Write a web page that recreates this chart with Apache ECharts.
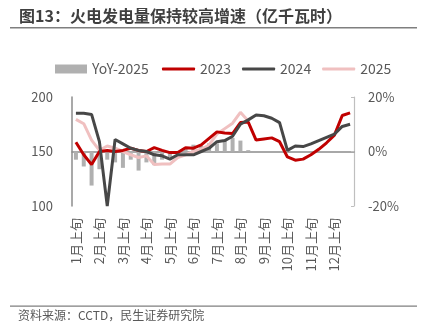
<!DOCTYPE html>
<html>
<head>
<meta charset="utf-8">
<script src="https://cdn.jsdelivr.net/npm/echarts@6/dist/echarts.min.js"></script>
<style>
html,body{margin:0;padding:0;background:#fff;}
#c{width:424px;height:327px;}
</style>
</head>
<body>
<div id="c"></div>
<script>
var categories = [
  '1月上旬','1月中旬','1月下旬','2月上旬','2月中旬','2月下旬',
  '3月上旬','3月中旬','3月下旬','4月上旬','4月中旬','4月下旬',
  '5月上旬','5月中旬','5月下旬','6月上旬','6月中旬','6月下旬',
  '7月上旬','7月中旬','7月下旬','8月上旬','8月中旬','8月下旬',
  '9月上旬','9月中旬','9月下旬','10月上旬','10月中旬','10月下旬',
  '11月上旬','11月中旬','11月下旬','12月上旬','12月中旬','12月下旬'
];
var yoy2025 = [-3,-5.5,-12.5,-6.5,-3,-4,-6,-3,-7,-4,-5,-3,-2,-1,1.5,2.5,2,3,3,4,5,4,0.5];
var s2023 = [158.5,147,138,150,151,150,151,153,151,150,153.5,151,149,149,153.5,153,156,162,168,167,166.5,176.5,177,160.5,161.5,162.5,159,145,142,143,147,152,158,165,183,185.5];
var s2024 = [185,185,184,159,100,161,157,153,151,150,147,146,143,147,147,147,150,153,159,160,164,175,179,183.5,182.8,180.5,176.5,151,155,154.5,157,160,163,166,173,175];
var s2025 = [179.5,175.5,160.5,151,155,153,150,147,144.5,146,138,138.5,138.5,144.5,147,150,152,156,166,171,176,186,178];
var leftTicks = {min:100, max:200, interval:50};
var rightTicks = {min:-20, max:20, interval:20};

var chart = echarts.init(document.getElementById('c'), null, {renderer:'canvas'});
var txt = '#595959';
var font = '"Noto Sans CJK SC","Noto Sans",sans-serif';
chart.setOption({
  animation:false,
  backgroundColor:'#fff',
  textStyle:{fontFamily:font},
  graphic:[
    {type:'text', left:19, top:8, style:{text:'图13：火电发电量保持较高增速（亿千瓦时）', fill:'#404040', font:'bold 16px '+font}},
    {type:'rect', shape:{x:10,y:27,width:407,height:1.5}, style:{fill:'#7f7f7f'}},
    {type:'rect', shape:{x:10,y:305.5,width:407,height:1.2}, style:{fill:'#7f7f7f'}},
    {type:'text', left:18, top:309, style:{text:'资料来源：CCTD，民生证券研究院', fill:txt, font:'12px '+font}}
  ],
  legend:[
    {
      left:50, top:57, itemWidth:32, itemHeight:9, itemGap:11, icon:'rect',
      textStyle:{color:txt, fontSize:14, fontFamily:font},
      data:['YoY-2025']
    },
    {
      left:157, top:57, itemWidth:33, itemHeight:3, itemGap:11, icon:'roundRect',
      textStyle:{color:txt, fontSize:14, fontFamily:font},
      data:['2023','2024','2025']
    }
  ],
  grid:{left:72, right:70, top:97, bottom:121, containLabel:false},
  xAxis:{
    type:'category', data:categories, boundaryGap:true,
    axisLine:{show:true, lineStyle:{color:'#8c8c8c', width:1.5}},
    axisTick:{show:false},
    axisLabel:{interval:2, rotate:90, margin:12, color:txt, fontSize:13, fontFamily:font}
  },
  yAxis:[
    {type:'value', position:'left', min:leftTicks.min, max:leftTicks.max, interval:leftTicks.interval,
     axisLine:{show:true, lineStyle:{color:'#8c8c8c', width:1.5}}, axisTick:{show:false},
     splitLine:{show:false}, axisLabel:{color:txt, fontSize:13, margin:19, fontFamily:font}},
    {type:'value', position:'right', min:rightTicks.min, max:rightTicks.max, interval:rightTicks.interval,
     axisLine:{show:true, lineStyle:{color:'#bfbfbf', width:1.2}},
     axisTick:{show:true, inside:true, length:3, lineStyle:{color:'#bfbfbf'}},
     splitLine:{show:false}, axisLabel:{color:txt, fontSize:13, margin:14, formatter:'{value}%', fontFamily:font}}
  ],
  series:[
    {name:'YoY-2025', type:'bar', yAxisIndex:1, data:yoy2025, barWidth:4, itemStyle:{color:'#b0b0b0'}},
    {name:'2025', type:'line', data:s2025, symbol:'none', lineStyle:{color:'#f0c0c0', width:3}, itemStyle:{color:'#f0c0c0'}},
    {name:'2023', type:'line', data:s2023, symbol:'none', lineStyle:{color:'#c00000', width:3}, itemStyle:{color:'#c00000'}},
    {name:'2024', type:'line', data:s2024, symbol:'none', lineStyle:{color:'#474747', width:3}, itemStyle:{color:'#474747'}}
  ]
});
</script>
</body>
</html>
